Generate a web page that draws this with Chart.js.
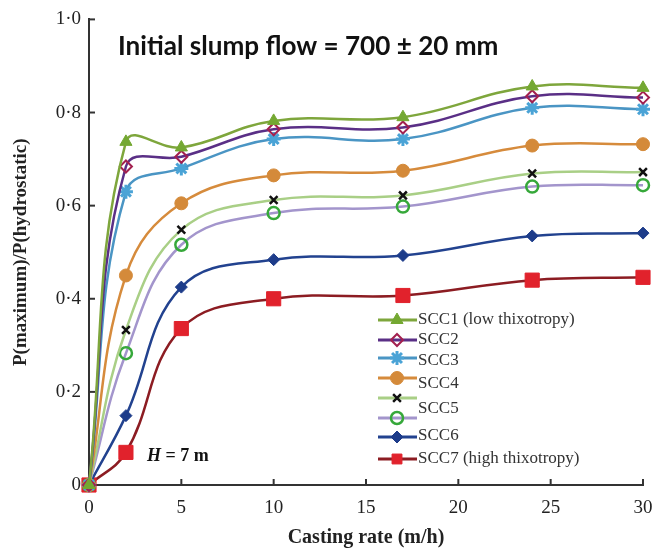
<!DOCTYPE html>
<html>
<head>
<meta charset="utf-8">
<script src="https://cdn.jsdelivr.net/npm/chart.js@4"></script>
<style>
  html, body { margin: 0; padding: 0; background: #fff; }
  #wrap { width: 666px; height: 552px; }
</style>
</head>
<body>
<div id="wrap"><canvas id="chart"></canvas></div>
<script>
// casting rate (m/h) and P(max)/P(hydrostatic)
const castingRate = [0, 2, 5, 10, 17, 24, 30]
const scc1 = [0, 0.737, 0.725, 0.782, 0.790, 0.856, 0.853]
const scc2 = [0, 0.684, 0.705, 0.764, 0.768, 0.835, 0.832]
const scc3 = [0, 0.630, 0.680, 0.743, 0.743, 0.810, 0.807]
const scc4 = [0, 0.450, 0.605, 0.665, 0.675, 0.729, 0.732]
const scc5 = [0, 0.333, 0.548, 0.612, 0.622, 0.669, 0.672]
const scc5b = [0, 0.283, 0.516, 0.584, 0.598, 0.641, 0.644]
const scc6 = [0, 0.149, 0.425, 0.484, 0.493, 0.535, 0.541]
const scc7 = [0, 0.070, 0.336, 0.400, 0.407, 0.440, 0.446]

const xTicks = [0, 5, 10, 15, 20, 25, 30]
const yTickLabels = ["0", "0·2", "0·4", "0·6", "0·8", "1·0"]
const legendNames = ["SCC1 (low thixotropy)", "SCC2", "SCC3", "SCC4", "SCC5", "SCC6", "SCC7 (high thixotropy)"]

const serif = "'Liberation Serif', 'DejaVu Serif', serif"

const makeSet = function (label, values, line, marker, style, radius, filled, bw) {
     return {
          label: label,
          data: castingRate.map((x, i) => ({ x: x, y: values[i] })),
          borderColor: line,
          borderWidth: 2.5,
          tension: 0.4,
          pointStyle: style,
          pointRadius: radius,
          pointBorderColor: marker,
          pointBackgroundColor: filled ? marker : "rgba(0,0,0,0)",
          pointBorderWidth: bw,
          clip: false
     }
}

const datasets = [
     makeSet("SCC1", scc1, "#7ea63c", "#74a832", "triangle", 7, true, 1),
     makeSet("SCC2", scc2, "#5a2f86", "#a3204f", "rectRot", 6, false, 2),
     makeSet("SCC3", scc3, "#4a95c4", "#4aa3d6", "star", 7, true, 3),
     makeSet("SCC4", scc4, "#d68b3c", "#d48a3a", "circle", 6.5, true, 1),
     makeSet("SCC5", scc5, "#a9cf86", "#111111", "crossRot", 5.5, false, 2.5),
     makeSet("SCC5b", scc5b, "#a395cc", "#36a83a", "circle", 6, false, 2.5),
     makeSet("SCC6", scc6, "#22428f", "#1d3c8a", "rectRot", 6, true, 1),
     makeSet("SCC7", scc7, "#8c1c22", "#e1222c", "rect", 10, true, 1)
]

const innerTicks = {
     id: "innerTicks",
     afterDraw(chart) {
          const ctx = chart.ctx
          const xs = chart.scales.x
          const ys = chart.scales.y
          ctx.save()
          ctx.strokeStyle = "#333"
          ctx.lineWidth = 2
          xTicks.slice(1).forEach(v => {
               const px = xs.getPixelForValue(v)
               ctx.beginPath()
               ctx.moveTo(px, ys.bottom)
               ctx.lineTo(px, ys.bottom - 6)
               ctx.stroke()
          })
          yTickLabels.forEach((t, i) => {
               if (i === 0) return
               const py = ys.getPixelForValue(i * 0.2)
               ctx.beginPath()
               ctx.moveTo(xs.left, py)
               ctx.lineTo(xs.left + 6, py)
               ctx.stroke()
          })
          ctx.restore()
     }
}

const notes = {
     id: "notes",
     afterDatasetsDraw(chart) {
          const ctx = chart.ctx
          ctx.save()
          ctx.fillStyle = "#111"
          ctx.textBaseline = "middle"
          const headline = "Initial slump flow = 700 ± 20 mm"
          ctx.font = "bold 22px Lato, 'Open Sans', sans-serif"
          const size = 22 * 380 / ctx.measureText(headline).width
          ctx.font = "bold " + size.toFixed(1) + "px Lato, 'Open Sans', sans-serif"
          ctx.fillText(headline, 118, 47)

          ctx.font = "italic bold 18px " + serif
          ctx.fillText("H", 147, 456)
          const w = ctx.measureText("H ").width
          ctx.font = "bold 18px " + serif
          ctx.fillText("= 7 m", 147 + w, 456)

          // legend: 8 marker rows, 7 labels as printed in the figure
          const rowY = [320, 340, 358, 378, 398, 418, 437, 459]
          const textY = [320, 340, 361, 384, 409, 436, 459]
          rowY.forEach((y, i) => {
               const ds = chart.data.datasets[i]
               ctx.strokeStyle = ds.borderColor
               ctx.lineWidth = 3
               ctx.beginPath()
               ctx.moveTo(378, y)
               ctx.lineTo(417, y)
               ctx.stroke()
               ctx.fillStyle = ds.pointBackgroundColor
               ctx.strokeStyle = ds.pointBorderColor
               ctx.lineWidth = ds.pointBorderWidth
               Chart.helpers.drawPoint(ctx, {
                    pointStyle: ds.pointStyle,
                    radius: Math.min(ds.pointRadius, 7),
                    rotation: 0,
                    borderWidth: ds.pointBorderWidth
               }, 397, y)
          })
          ctx.fillStyle = "#333"
          ctx.font = "17px " + serif
          legendNames.forEach((name, i) => {
               ctx.fillText(name, 418, textY[i])
          })
          ctx.restore()
     }
}

new Chart(document.getElementById("chart"), {
     type: "line",
     data: { datasets: datasets },
     options: {
          responsive: true,
          maintainAspectRatio: false,
          animation: false,
          layout: { padding: { top: 14, right: 23, left: 0, bottom: 0 } },
          plugins: {
               legend: { display: false },
               tooltip: { enabled: false }
          },
          scales: {
               x: {
                    type: "linear",
                    min: 0,
                    max: 30,
                    afterFit: s => { s.height = 67 },
                    afterBuildTicks: s => { s.ticks = xTicks.map(v => ({ value: v })) },
                    grid: { display: true, drawOnChartArea: false, drawTicks: false },
                    border: { color: "#333", width: 2 },
                    ticks: { color: "#222", padding: 12, font: { family: serif, size: 19 } },
                    title: {
                         display: true,
                         text: "Casting rate (m/h)",
                         color: "#222",
                         font: { family: serif, size: 20, weight: "bold" },
                         padding: { top: 4, bottom: 2 }
                    }
               },
               y: {
                    min: 0,
                    max: 1,
                    afterFit: s => { s.width = 89 },
                    afterBuildTicks: s => { s.ticks = yTickLabels.map((t, i) => ({ value: i * 0.2 })) },
                    grid: { display: true, drawOnChartArea: false, drawTicks: false },
                    border: { color: "#333", width: 2 },
                    ticks: {
                         color: "#222",
                         padding: 8,
                         font: { family: serif, size: 19 },
                         callback: (v, i) => yTickLabels[i]
                    },
                    title: {
                         display: true,
                         text: "P(maximum)/P(hydrostatic)",
                         color: "#222",
                         font: { family: serif, size: 19, weight: "bold" },
                         padding: { top: 10, bottom: 0 }
                    }
               }
          }
     },
     plugins: [innerTicks, notes]
})
</script>
</body>
</html>
